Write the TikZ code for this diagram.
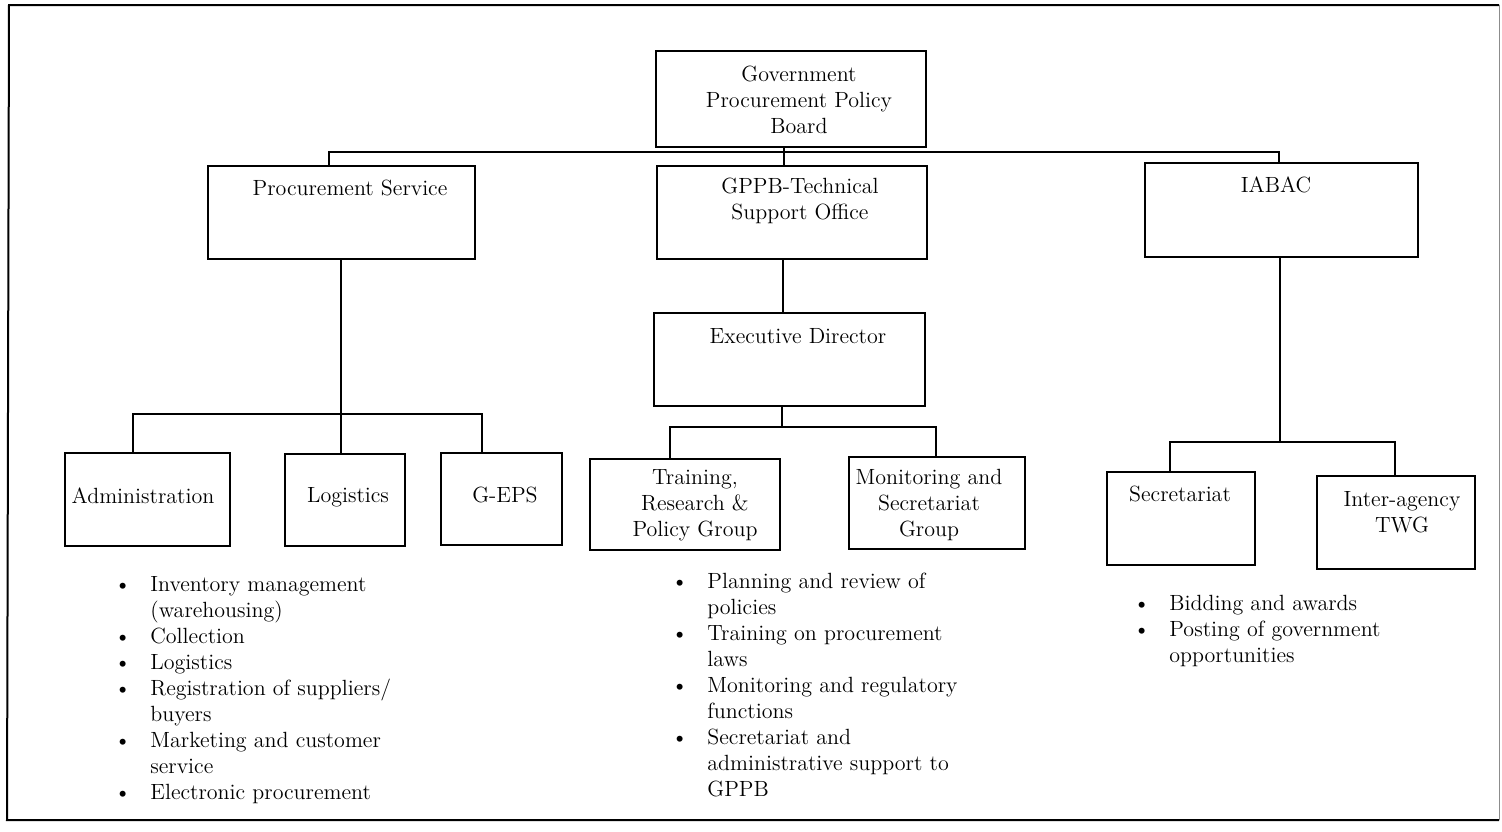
\documentclass[tikz,border=0pt]{standalone}
\usepackage{array}
\begin{document}
\begin{tikzpicture}[x=0.5pt,y=-0.5pt,
  orgbox/.style={draw, line width=1.2pt, inner sep=0pt},
  lbl/.style={font=\fontsize{11}{13}\selectfont, align=center, inner sep=0pt},
  conn/.style={line width=0.9pt},
  blist/.style={font=\fontsize{11}{13}\selectfont, anchor=base west, inner sep=0pt}]
\useasboundingbox (0,0) rectangle (1502,831);
% outer frame
\draw[line width=1pt] (1499,5) -- (9,5) -- (7,820) -- (1499,820);
\draw[line width=0.5pt, black!45] (1499,5) -- (1499,820);

% boxes
\node[orgbox, minimum width=135pt, minimum height=48pt] (gppb) at (791,99) {};
\node[orgbox, minimum width=133.5pt, minimum height=46.5pt] (ps) at (341.5,212.5) {};
\node[orgbox, minimum width=135pt, minimum height=46.5pt] (tso) at (792,212.5) {};
\node[orgbox, minimum width=136.5pt, minimum height=47pt] (iabac) at (1281.5,210) {};
\node[orgbox, minimum width=135.5pt, minimum height=46.5pt] (ed) at (789.5,359.5) {};
\node[orgbox, minimum width=82.5pt, minimum height=46.5pt] (adm) at (147.5,499.5) {};
\node[orgbox, minimum width=60pt, minimum height=46pt] (log) at (345,500) {};
\node[orgbox, minimum width=60.5pt, minimum height=46pt] (geps) at (501.5,499) {};
\node[orgbox, minimum width=95pt, minimum height=45.5pt] (trp) at (685,504.5) {};
\node[orgbox, minimum width=88pt, minimum height=46pt] (msg) at (937,503) {};
\node[orgbox, minimum width=74pt, minimum height=46.5pt] (sec) at (1181,518.5) {};
\node[orgbox, minimum width=79pt, minimum height=46.5pt] (twg) at (1396,522.5) {};

% labels
\node[lbl] (tgppb) at (799,100) {Government\\Procurement Policy\\Board};
\node[lbl] (tps) at (350,188) {Procurement Service};
\node[lbl] (ttso) at (800,201) {GPPB-Technical\\Support Office};
\node[lbl] (tiabac) at (1276,185) {IABAC};
\node[lbl] (ted) at (798,336) {Executive Director};
\node[lbl] (tadm) at (143,496) {Administration};
\node[lbl] (tlog) at (348,497) {Logistics};
\node[lbl] (tgeps) at (505,495) {G-EPS};
\node[lbl] (ttrp) at (695,505) {Training,\\Research \&\\Policy Group};
\node[lbl] (tmsg) at (929,505) {Monitoring and\\Secretariat\\Group};
\node[lbl] (tsec) at (1180,494) {Secretariat};
\node[lbl] (ttwg) at (1402,512) {Inter-agency\\TWG};

% connector junctions
\coordinate (topbar) at (784,152);
\coordinate (psbar) at (341,414);
\coordinate (edbar) at (782,427);
\coordinate (iabar) at (1280,442);

% top level
\draw[conn] (gppb.south -| topbar) -- (topbar);
\draw[conn] (ps.north -| 329,0) |- (topbar) -| (iabac.north -| 1279,0);
\draw[conn] (topbar) -- (tso.north -| topbar);

% procurement service subtree
\draw[conn] (ps.south -| psbar) -- (log.north -| psbar);
\draw[conn] (adm.north -| 133,0) |- (psbar) -| (geps.north -| 482,0);

% technical support office subtree
\draw[conn] (tso.south -| 783,0) -- (ed.north -| 783,0);
\draw[conn] (ed.south -| edbar) -- (edbar);
\draw[conn] (trp.north -| 670,0) |- (edbar) -| (msg.north -| 936,0);

% IABAC subtree
\draw[conn] (iabac.south -| iabar) -- (iabar);
\draw[conn] (sec.north -| 1170,0) |- (iabar) -| (twg.north -| 1395,0);

% bullet lists
\newcommand{\bul}{\makebox[18pt][l]{\textbullet}}
\newcommand{\cnt}{\makebox[18pt][l]{}}
\node[blist] (listps) at (114,591) {\begin{tabular}[t]{@{}l@{}}
\bul Inventory management\\
\cnt (warehousing)\\
\bul Collection\\
\bul Logistics\\
\bul Registration of suppliers/\\
\cnt buyers\\
\bul Marketing and customer\\
\cnt service\\
\bul Electronic procurement
\end{tabular}};
\node[blist] (listtso) at (671,588) {\begin{tabular}[t]{@{}l@{}}
\bul Planning and review of\\
\cnt policies\\
\bul Training on procurement\\
\cnt laws\\
\bul Monitoring and regulatory\\
\cnt functions\\
\bul Secretariat and\\
\cnt administrative support to\\
\cnt GPPB
\end{tabular}};
\node[blist] (listia) at (1133,610) {\begin{tabular}[t]{@{}l@{}}
\bul Bidding and awards\\
\bul Posting of government\\
\cnt opportunities
\end{tabular}};
\end{tikzpicture}
\end{document}
